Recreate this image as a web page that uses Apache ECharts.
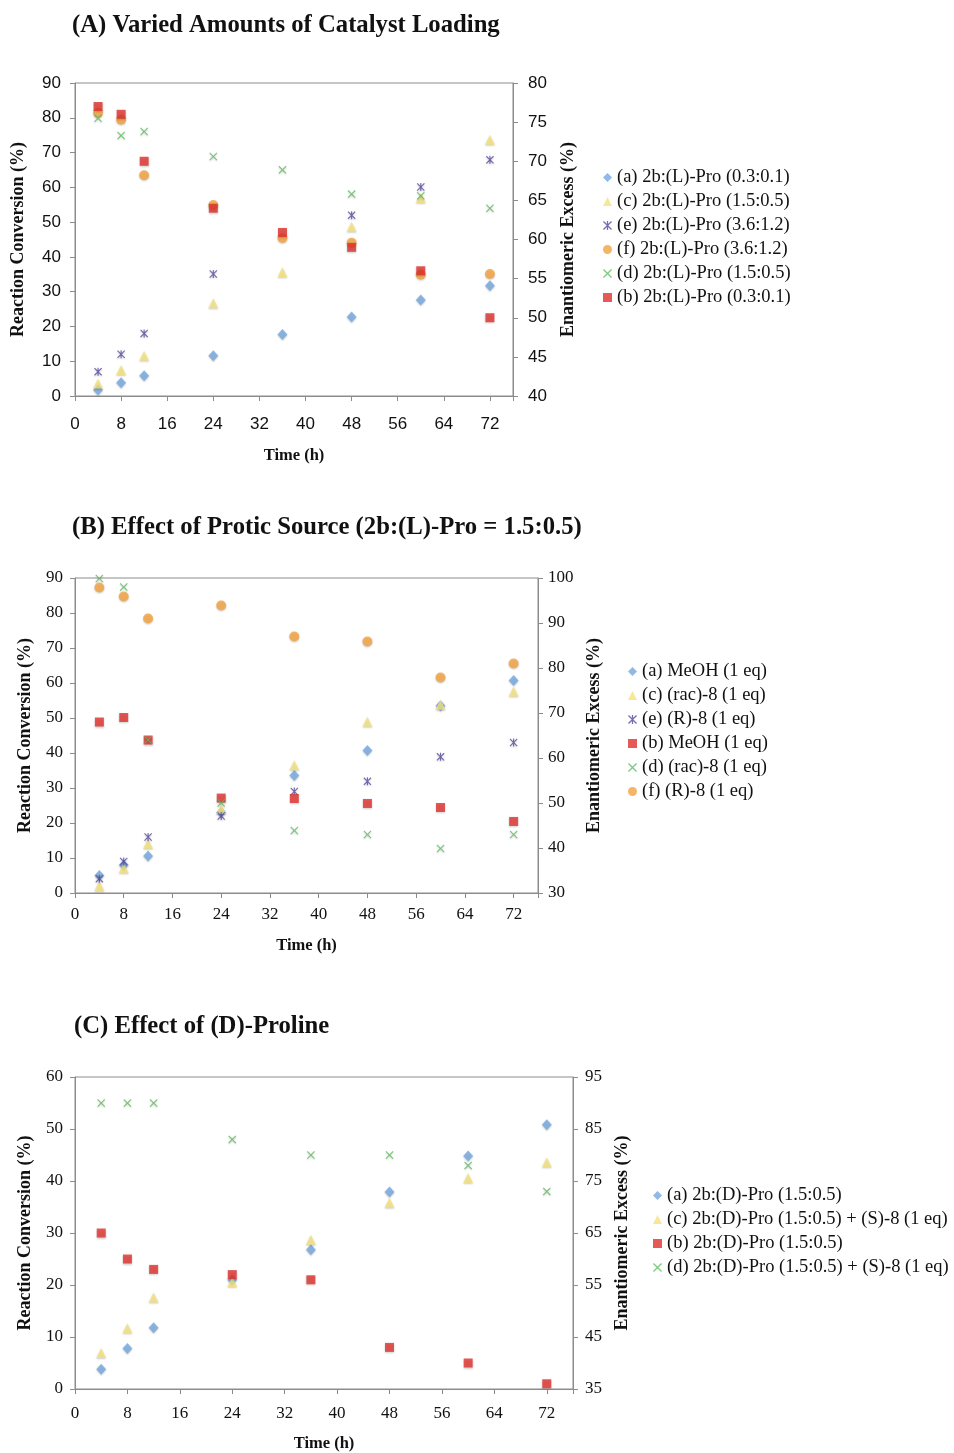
<!DOCTYPE html>
<html lang="en">
<head>
<meta charset="UTF-8">
<title>Catalyst loading, protic source and (D)-proline</title>
<style>
  html, body { margin: 0; background: #fff; }
  #main { width: 954px; height: 1453px; }
</style>
<script src="https://cdn.jsdelivr.net/npm/echarts@6.0.0/dist/echarts.min.js"></script>
</head>
<body>
<div id="main"></div>
<script>
  // sampling times (h), the same for every series
  const hours = [4, 8, 12, 24, 36, 48, 60, 72]

  // (A) catalyst loading -- conversion (%) left axis, ee (%) right axis
  const aConvA = [1.7, 3.8, 5.8, 11.6, 17.7, 22.7, 27.6, 31.7]
  const aConvC = [3.6, 7.5, 11.6, 26.7, 35.6, 48.7, 56.9, 73.7]
  const aConvE = [7.0, 12.0, 18.0, 35.1, null, 52.0, 60.1, 67.9]
  const aEeF = [76.2, 75.3, 68.2, 64.4, 60.2, 59.6, 55.5, 55.6]
  const aEeD = [75.5, 73.3, 73.8, 70.6, 68.9, 65.8, 65.6, 64.0]
  const aEeB = [77.0, 76.0, 70.0, 64.0, 60.9, 59.0, 56.0, 50.0]

  // (B) protic source
  const bConvA = [5.0, 8.0, 10.6, 23.0, 33.6, 40.7, 53.5, 60.7]
  const bConvC = [2.0, 7.1, 14.1, 24.0, 36.5, 48.9, 53.8, 57.6]
  const bConvE = [4.1, 9.0, 16.0, 22.0, 29.0, 31.9, 38.9, 43.0]
  const bEeB = [68.0, 69.0, 64.0, 51.1, 51.0, 49.9, 49.0, 45.9]
  const bEeD = [99.9, 98.0, 64.0, 50.0, 43.9, 43.0, 39.9, 43.0]
  const bEeF = [97.9, 95.9, 91.0, 93.9, 87.0, 85.9, 77.9, 81.0]

  // (C) (D)-proline
  const cConvA = [3.8, 7.8, 11.8, 21.0, 26.8, 37.9, 44.8, 50.8]
  const cConvC = [6.9, 11.7, 17.6, 20.6, 28.7, 35.8, 40.6, 43.6]
  const cEeB = [65, 60, 58, 57, 56, 43, 40, 36]
  const cEeD = [90, 90, 90, 83, 80, 80, 78, 73]

  const titles = [
    '(A) Varied Amounts of Catalyst Loading',
    '(B) Effect of Protic Source (2b:(L)-Pro = 1.5:0.5)',
    '(C) Effect of (D)-Proline'
  ]

  // excel-ish marker shapes
  const X_PATH = 'path://M0,1 L1,0 L5,4 L9,0 L10,1 L6,5 L10,9 L9,10 L5,6 L1,10 L0,9 L4,5 Z'
  const STAR_PATH = X_PATH + ' M4.3,0 L5.7,0 L5.7,10 L4.3,10 Z'
  const marks = {
    diamond: { symbol: 'diamond', size: [10, 11], color: '#74A8DE' },
    triangle: { symbol: 'triangle', size: 10, color: '#F4E27C' },
    star: { symbol: STAR_PATH, size: 8, color: '#56499F' },
    circle: { symbol: 'circle', size: 10, color: '#F4A23E' },
    cross: { symbol: X_PATH, size: 8, color: '#5DBA5D' },
    square: { symbol: 'rect', size: 9, color: '#DF302C' }
  }

  // [name, values, right axis?, marker] in legend order
  const panelSeries = [
    [
      ['(a) 2b:(L)-Pro (0.3:0.1)', aConvA, false, 'diamond'],
      ['(c) 2b:(L)-Pro (1.5:0.5)', aConvC, false, 'triangle'],
      ['(e) 2b:(L)-Pro (3.6:1.2)', aConvE, false, 'star'],
      ['(f) 2b:(L)-Pro (3.6:1.2)', aEeF, true, 'circle'],
      ['(d) 2b:(L)-Pro (1.5:0.5)', aEeD, true, 'cross'],
      ['(b) 2b:(L)-Pro (0.3:0.1)', aEeB, true, 'square']
    ],
    [
      ['(a) MeOH (1 eq)', bConvA, false, 'diamond'],
      ['(c) (rac)-8 (1 eq)', bConvC, false, 'triangle'],
      ['(e) (R)-8 (1 eq)', bConvE, false, 'star'],
      ['(b) MeOH (1 eq)', bEeB, true, 'square'],
      ['(d) (rac)-8 (1 eq)', bEeD, true, 'cross'],
      ['(f) (R)-8 (1 eq)', bEeF, true, 'circle']
    ],
    [
      ['(a) 2b:(D)-Pro (1.5:0.5)', cConvA, false, 'diamond'],
      ['(c) 2b:(D)-Pro (1.5:0.5) + (S)-8 (1 eq)', cConvC, false, 'triangle'],
      ['(b) 2b:(D)-Pro (1.5:0.5)', cEeB, true, 'square'],
      ['(d) 2b:(D)-Pro (1.5:0.5) + (S)-8 (1 eq)', cEeD, true, 'cross']
    ]
  ]

  // layout per panel
  const layout = [
    { grid: [75, 83, 438, 313], titleTop: 13, titleLeft: 72, legend: [603, 168],
      left: [0, 90, 10], right: [40, 80, 5], font: 'Liberation Sans', fs: 17,
      lm: 14, rm: 15, xm: 20, lg: 48, rg: 46, xg: 51 },
    { grid: [75, 578, 463, 315], titleTop: 515, titleLeft: 72, legend: [628, 662],
      left: [0, 90, 10], right: [30, 100, 10], font: 'Liberation Serif', fs: 17,
      lm: 12, rm: 10, xm: 13, lg: 41, rg: 47, xg: 44 },
    { grid: [75, 1077, 498, 312], titleTop: 1014, titleLeft: 74, legend: [653, 1186],
      left: [0, 60, 10], right: [35, 95, 10], font: 'Liberation Serif', fs: 17,
      lm: 12, rm: 12, xm: 16, lg: 41, rg: 38, xg: 46 }
  ]

  const serif = 'Liberation Serif'
  const axisGrey = '#8c8c8c'
  const yNameStyle = { fontFamily: serif, fontWeight: 'bold', fontSize: 18, color: '#111' }
  const xNameStyle = { fontFamily: serif, fontWeight: 'bold', fontSize: 16.5, color: '#111' }

  const option = {
    animation: false,
    backgroundColor: '#fff',
    title: [], grid: [], xAxis: [], yAxis: [], legend: [], series: []
  }

  layout.forEach((p, i) => {
    const [gx, gy, gw, gh] = p.grid
    option.title.push({
      text: titles[i], left: p.titleLeft, top: p.titleTop, padding: 0,
      textStyle: { fontFamily: serif, fontWeight: 'bold', fontSize: 24.7, color: '#111' }
    })
    option.grid.push({
      left: gx, top: gy, width: gw, height: gh,
      show: true, borderColor: axisGrey, borderWidth: 1, containLabel: false
    })
    const tickStyle = { fontFamily: p.font, fontSize: p.fs, color: '#111' }
    option.xAxis.push({
      type: 'value', gridIndex: i, min: 0, max: 76, interval: 8,
      name: 'Time (h)', nameLocation: 'middle', nameGap: p.xg, nameTextStyle: xNameStyle,
      axisLine: { show: true, lineStyle: { color: axisGrey } },
      axisTick: { show: true, length: 5, lineStyle: { color: axisGrey } },
      axisLabel: Object.assign({ margin: p.xm, formatter: v => (v % 8 === 0 ? String(v) : '') }, tickStyle),
      splitLine: { show: false }
    })
    option.yAxis.push({
      type: 'value', gridIndex: i, position: 'left',
      min: p.left[0], max: p.left[1], interval: p.left[2],
      name: 'Reaction Conversion (%)', nameLocation: 'middle', nameRotate: 90,
      nameGap: p.lg, nameTextStyle: yNameStyle,
      axisLine: { show: true, lineStyle: { color: axisGrey } },
      axisTick: { show: true, length: 5, lineStyle: { color: axisGrey } },
      axisLabel: Object.assign({ margin: p.lm }, tickStyle),
      splitLine: { show: false }
    })
    option.yAxis.push({
      type: 'value', gridIndex: i, position: 'right',
      min: p.right[0], max: p.right[1], interval: p.right[2],
      name: 'Enantiomeric Excess (%)', nameLocation: 'middle', nameRotate: 90,
      nameGap: p.rg, nameTextStyle: yNameStyle,
      axisLine: { show: true, lineStyle: { color: axisGrey } },
      axisTick: { show: true, length: 5, lineStyle: { color: axisGrey } },
      axisLabel: Object.assign({ margin: p.rm }, tickStyle),
      splitLine: { show: false }
    })
    option.legend.push({
      orient: 'vertical', left: p.legend[0], top: p.legend[1], padding: 0,
      itemWidth: 9, itemHeight: 9, itemGap: 5,
      textStyle: { fontFamily: serif, fontSize: 18.5, color: '#111', lineHeight: 18 },
      data: panelSeries[i].map(s => s[0])
    })
    panelSeries[i].forEach(([name, values, onRight, mk]) => {
      const m = marks[mk]
      option.series.push({
        name, type: 'scatter',
        xAxisIndex: i, yAxisIndex: i * 2 + (onRight ? 1 : 0),
        symbol: m.symbol, symbolSize: m.size,
        itemStyle: {
          color: m.color,
          shadowColor: 'rgba(0,0,0,0.25)', shadowBlur: 2, shadowOffsetY: 1
        },
        emphasis: { disabled: true },
        data: hours.map((h, k) => [h, values[k]]).filter(d => d[1] != null)
      })
    })
  })

  const chart = echarts.init(document.getElementById('main'))
  chart.setOption(option)
</script>
</body>
</html>
